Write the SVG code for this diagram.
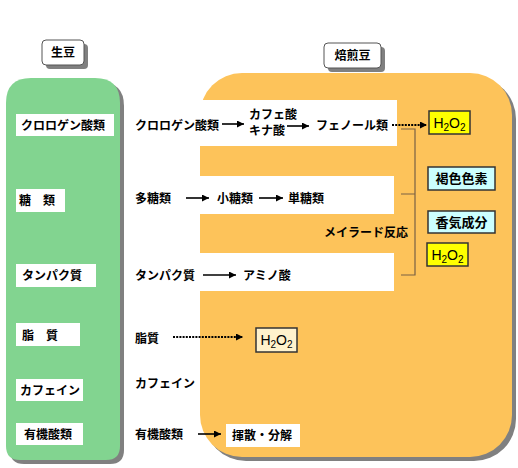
<svg xmlns="http://www.w3.org/2000/svg" width="518" height="468" viewBox="0 0 518 468">
<defs>
<marker id="ah" viewBox="0 0 10 10" refX="10" refY="5" markerWidth="8" markerHeight="7" markerUnits="userSpaceOnUse" orient="auto">
<path d="M0,0 L10,5 L0,10 z" fill="#000"/>
</marker>
</defs>
<style>
.t{font-family:"Noto Sans CJK JP","Noto Sans",sans-serif;font-size:12px;font-weight:bold;fill:#000}
.tb{font-family:"Noto Sans CJK JP","Noto Sans",sans-serif;font-size:13px;font-weight:bold;fill:#000}
.h{font-family:"Liberation Sans","Noto Sans",sans-serif;font-size:14px;fill:#000}
.wl{fill:#fff}
.ar{stroke:#000;stroke-width:1.6;fill:none;marker-end:url(#ah)}
.dt{stroke:#000;stroke-width:2;stroke-dasharray:2 1.2;fill:none;marker-end:url(#ah)}
.bx{stroke:#333;stroke-width:1.5}
.br{stroke:#7a6245;stroke-width:1.2;fill:none}
</style>
<rect width="518" height="468" fill="#fff"/>
<!-- green panel -->
<g id="green-panel">
<path d="M10,106 Q10,82 34,82 L100,82 Q124,82 124,106 L124,450 Q124,464 110,464 L24,464 Q10,464 10,450 Z" fill="#808080"/>
<path d="M6,103 Q6,78 31,78 L95,78 Q120,78 120,103 L120,446 Q120,460 106,460 L20,460 Q6,460 6,446 Z" fill="#82D490"/>
</g>
<!-- orange panel -->
<g id="orange-panel">
<rect x="204" y="77" width="312" height="384" rx="42" ry="42" fill="#808080"/>
<rect x="200" y="73" width="312" height="384" rx="42" ry="42" fill="#FDC35A"/>
</g>
<!-- white bands -->
<g id="bands">
<rect class="wl" x="128" y="100" width="269" height="46"/>
<rect class="wl" x="128" y="176" width="266" height="38"/>
<rect class="wl" x="128" y="253" width="266" height="38"/>
</g>
<!-- titles -->
<g id="title-green">
<rect x="46" y="44" width="42" height="25" rx="4" fill="#808080"/>
<rect x="42" y="40" width="42" height="25" rx="4" fill="#fff" stroke="#555" stroke-width="1"/>
<text class="t" x="63" y="57" text-anchor="middle">生豆</text>
</g>
<g id="title-orange">
<rect x="328" y="47" width="57" height="25" rx="4" fill="#808080"/>
<rect x="324" y="43" width="57" height="25" rx="4" fill="#fff" stroke="#555" stroke-width="1"/>
<text class="t" x="352.5" y="60" text-anchor="middle">焙煎豆</text>
</g>
<!-- green panel items -->
<g id="g-chloro"><rect class="wl" x="16" y="114" width="98" height="22"/><text class="t" x="21" y="129.5">クロロゲン酸類</text></g>
<g id="g-sugar"><rect class="wl" x="16" y="189" width="49" height="23"/><text class="t" x="19" y="205">糖　類</text></g>
<g id="g-protein"><rect class="wl" x="16" y="264" width="80" height="23"/><text class="t" x="22" y="280">タンパク質</text></g>
<g id="g-lipid"><rect class="wl" x="16" y="323" width="64" height="23"/><text class="t" x="22" y="339.5">脂　質</text></g>
<g id="g-caffeine"><rect class="wl" x="16" y="379" width="67" height="22"/><text class="t" x="20" y="394.5">カフェイン</text></g>
<g id="g-organic"><rect class="wl" x="16" y="423" width="67" height="22"/><text class="t" x="24" y="438.5">有機酸類</text></g>
<!-- middle texts -->
<g id="m-chloro"><text class="t" x="135" y="129.5">クロロゲン酸類</text></g>
<g id="m-caffeic"><text class="t" x="249" y="119">カフェ酸</text><text class="t" x="249" y="135">キナ酸</text></g>
<g id="m-phenol"><text class="t" x="316" y="130">フェノール類</text></g>
<g id="m-poly"><text class="t" x="135" y="202.5">多糖類</text></g>
<g id="m-oligo"><text class="t" x="217" y="202.5">小糖類</text></g>
<g id="m-mono"><text class="t" x="288" y="202.5">単糖類</text></g>
<g id="m-maillard"><text class="t" x="324" y="236.5">メイラード反応</text></g>
<g id="m-protein"><text class="t" x="135" y="279.5">タンパク質</text></g>
<g id="m-amino"><text class="t" x="243" y="279.5">アミノ酸</text></g>
<g id="m-lipid"><text class="t" x="135" y="342.5">脂質</text></g>
<g id="m-caffeine"><text class="t" x="135" y="388">カフェイン</text></g>
<g id="m-organic"><text class="t" x="135" y="438.5">有機酸類</text></g>
<!-- result boxes -->
<g id="h2o2-1"><rect class="bx" x="429" y="111" width="41" height="23" fill="#FFFF00"/><text class="h" x="449.5" y="127.5" text-anchor="middle">H<tspan font-size="10" dy="3">2</tspan><tspan dy="-3">O</tspan><tspan font-size="10" dy="3">2</tspan></text></g>
<g id="browning"><rect class="bx" x="428" y="167" width="67" height="23" fill="#CCFFFF"/><text class="tb" x="461.5" y="183" text-anchor="middle">褐色色素</text></g>
<g id="aroma"><rect class="bx" x="428" y="211" width="67" height="22" fill="#CCFFFF"/><text class="tb" x="461.5" y="226.5" text-anchor="middle">香気成分</text></g>
<g id="h2o2-2"><rect class="bx" x="427" y="243" width="41" height="23" fill="#FFFF00"/><text class="h" x="447.5" y="259.5" text-anchor="middle">H<tspan font-size="10" dy="3">2</tspan><tspan dy="-3">O</tspan><tspan font-size="10" dy="3">2</tspan></text></g>
<g id="h2o2-3"><rect class="bx" x="256" y="328" width="41" height="24" fill="#FFF2CC"/><text class="h" x="276.5" y="344.5" text-anchor="middle">H<tspan font-size="10" dy="3">2</tspan><tspan dy="-3">O</tspan><tspan font-size="10" dy="3">2</tspan></text></g>
<g id="volatile"><rect x="226" y="424" width="74" height="23" fill="#fff"/><text class="t" x="232" y="440">揮散・分解</text></g>
<!-- connectors -->
<g id="connectors">
<line class="ar" x1="222" y1="124" x2="244" y2="124"/>
<line class="ar" x1="287" y1="126" x2="309" y2="126"/>
<line class="dt" x1="392" y1="125" x2="427" y2="125"/>
<line class="ar" x1="186" y1="198" x2="209" y2="198"/>
<line class="ar" x1="259" y1="198" x2="283" y2="198"/>
<line class="ar" x1="203" y1="275" x2="236" y2="275"/>
<line class="dt" x1="173" y1="337" x2="243" y2="337"/>
<line class="ar" x1="198" y1="434" x2="221" y2="434"/>
<path class="br" d="M401,129 H415 V275 H401 M401,194 H415"/>
</g>
</svg>
